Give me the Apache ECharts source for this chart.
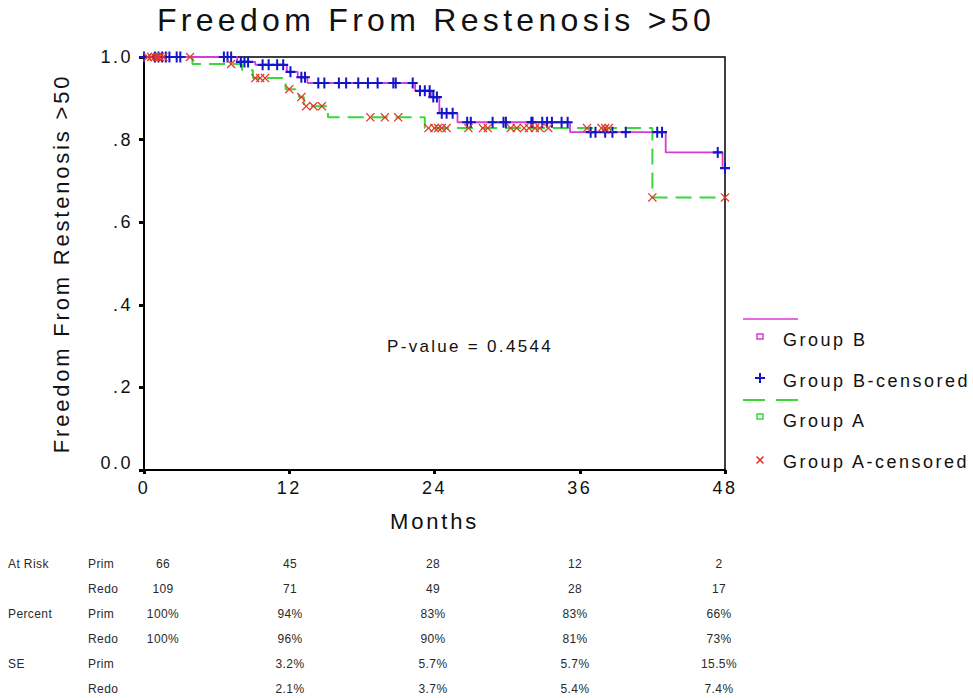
<!DOCTYPE html>
<html><head><meta charset="utf-8">
<script src="https://cdn.jsdelivr.net/npm/echarts@6/dist/echarts.min.js"></script>
<style>
html,body{margin:0;padding:0;background:#fff;}
#chart{width:973px;height:698px;}
#chart text[style*="32px"]{letter-spacing:4.3px;}
#chart text[style*="22px"]{letter-spacing:2.8px;}
#chart text[style*="18px"]{letter-spacing:2.5px;}
#chart text[style*="17px"]{letter-spacing:2.3px;}
#chart text[style*="12px"]{letter-spacing:0.4px;}
</style></head><body><div id="chart"></div>
<script>
// ---- tick labels ----
const xTickLabels = ['0', '12', '24', '36', '48'];
const yTickLabels = ['0.0', '.2', '.4', '.6', '.8', '1.0'];

// ---- Group B (Redo): Kaplan-Meier steps [month, survival] ----
const groupBSteps = [[0,1.0],[7.7,0.988],[9.2,0.981],[11.8,0.964],[12.7,0.951],[13.5,0.937],[22.4,0.918],[23.7,0.903],[24.4,0.864],[25.9,0.842],[35.2,0.818],[43.1,0.769],[47.8,0.731],[48,0.731]];
// censored marks [month, survival]
const groupBCensored = [[0,1.0],[0.9,1.0],[1.2,1.0],[1.5,1.0],[1.8,1.0],[2.1,1.0],[2.7,1.0],[3.0,1.0],[6.6,1.0],[6.9,1.0],[7.2,1.0],
  [8.0,0.988],[8.3,0.988],[8.6,0.988],
  [9.8,0.981],[10.3,0.981],[11.0,0.981],[11.5,0.981],
  [12.1,0.964],[13.0,0.951],[13.3,0.951],
  [14.4,0.937],[14.9,0.937],[16.1,0.937],[16.7,0.937],[17.7,0.937],[18.5,0.937],[19.3,0.937],[20.6,0.937],[20.8,0.937],[22.2,0.937],
  [22.8,0.918],[23.2,0.918],[23.6,0.918],
  [23.9,0.903],[24.2,0.903],
  [24.6,0.864],[25.0,0.864],[25.5,0.864],
  [26.7,0.842],[27.0,0.842],[28.8,0.842],[29.7,0.842],[29.9,0.842],[32.0,0.842],[32.1,0.842],[32.9,0.842],[33.3,0.842],[33.7,0.842],[34.5,0.842],[35.0,0.842],
  [36.9,0.818],[37.3,0.818],[38.1,0.818],[38.7,0.818],[39.8,0.818],[42.4,0.818],[42.8,0.818],
  [47.4,0.769],[48.0,0.731]];

// ---- Group A (Prim): Kaplan-Meier steps ----
const groupASteps = [[0,1.0],[4.0,0.983],[8.1,0.968],[9.0,0.949],[11.7,0.922],[12.8,0.903],[13.2,0.881],[15.2,0.854],[23.2,0.828],[42.0,0.660],[48,0.660]];
const groupACensored = [[0.3,1.0],[0.6,1.0],[0.9,1.0],[1.1,1.0],[1.3,1.0],[1.6,1.0],[3.8,1.0],
  [7.2,0.983],
  [9.2,0.949],[9.6,0.949],[10.0,0.949],
  [12.0,0.922],[13.0,0.903],
  [13.4,0.881],[14.0,0.881],[14.7,0.881],
  [18.7,0.854],[19.9,0.854],[21.0,0.854],
  [23.5,0.828],[24.0,0.828],[24.3,0.828],[24.6,0.828],[25.0,0.828],[26.8,0.828],[28.0,0.828],[28.4,0.828],[30.3,0.828],[30.8,0.828],[31.4,0.828],[31.8,0.828],[32.3,0.828],[32.7,0.828],[33.4,0.828],[36.6,0.828],[37.8,0.828],[38.1,0.828],[38.4,0.828],
  [42.0,0.660],[48.0,0.660]];

// ---- risk table ----
const tableGroups = ['At Risk', '', 'Percent', '', 'SE', ''];
const tableArms = ['Prim', 'Redo', 'Prim', 'Redo', 'Prim', 'Redo'];
const atRiskPrim = ['66', '45', '28', '12', '2'];
const atRiskRedo = ['109', '71', '49', '28', '17'];
const percentPrim = ['100%', '94%', '83%', '83%', '66%'];
const percentRedo = ['100%', '96%', '90%', '81%', '73%'];
const sePrim = ['', '3.2%', '5.7%', '5.7%', '15.5%'];
const seRedo = ['', '2.1%', '3.7%', '5.4%', '7.4%'];

const titleText = 'Freedom From Restenosis >50';
const pValueText = 'P-value = 0.4544';
const legendNames = ['Group B', 'Group B-censored', 'Group A', 'Group A-censored'];

// ---- styles / layout ----
const FONT = 'Liberation Sans';
const MAGENTA = '#d83ad8', BLUE = '#1414c8', GREEN = '#3ad83a', RED = '#e03a2a';
const PLUS = 'path://M4,0h2v4h4v2h-4v4h-2v-4h-4v-2h4z';
const CROSS = 'path://M1,0L5,4L9,0L10,1L6,5L10,9L9,10L5,6L1,10L0,9L4,5L0,1Z';

const chart = echarts.init(document.getElementById('chart'), null, {renderer: 'svg'});

const tableRows = [atRiskPrim, atRiskRedo, percentPrim, percentRedo, sePrim, seRedo];
const colX = [163, 290, 433, 575, 719];
const rowY = [564, 589, 614, 639, 664, 689];
const tableEls = [];
const tStyle = {fontSize: 12, fontFamily: FONT, fill: '#2a2a2a', verticalAlign: 'middle'};
tableRows.forEach((row, r) => {
  if (tableGroups[r]) tableEls.push({type: 'text', style: Object.assign({}, tStyle, {text: tableGroups[r], x: 8, y: rowY[r], align: 'left'})});
  tableEls.push({type: 'text', style: Object.assign({}, tStyle, {text: tableArms[r], x: 88, y: rowY[r], align: 'left'})});
  row.forEach((v, c) => {
    if (v) tableEls.push({type: 'text', style: Object.assign({}, tStyle, {text: v, x: colX[c], y: rowY[r], align: 'center'})});
  });
});

const lStyle = {fontSize: 18, fontFamily: FONT, fill: '#111', verticalAlign: 'middle', align: 'left'};
const legendEls = [
  {type: 'line', shape: {x1: 743, y1: 319, x2: 798, y2: 319}, style: {stroke: MAGENTA, lineWidth: 1.5}},
  {type: 'rect', shape: {x: 757, y: 334, width: 6, height: 5}, style: {fill: '#fff', stroke: MAGENTA, lineWidth: 1.5}},
  {type: 'text', style: Object.assign({}, lStyle, {text: legendNames[0], x: 783, y: 340})},
  {type: 'polygon', shape: {points: [[759,373],[761,373],[761,377],[765,377],[765,379],[761,379],[761,383],[759,383],[759,379],[755,379],[755,377],[759,377]]}, style: {fill: BLUE}},
  {type: 'text', style: Object.assign({}, lStyle, {text: legendNames[1], x: 783, y: 381})},
  {type: 'line', shape: {x1: 743, y1: 400, x2: 798, y2: 400}, style: {stroke: GREEN, lineWidth: 2, lineDash: [22, 11]}},
  {type: 'rect', shape: {x: 757, y: 414, width: 6, height: 5}, style: {fill: '#fff', stroke: GREEN, lineWidth: 1.5}},
  {type: 'text', style: Object.assign({}, lStyle, {text: legendNames[2], x: 783, y: 421})},
  {type: 'line', shape: {x1: 756.5, y1: 456.5, x2: 763.5, y2: 463.5}, style: {stroke: RED, lineWidth: 1.6}},
  {type: 'line', shape: {x1: 763.5, y1: 456.5, x2: 756.5, y2: 463.5}, style: {stroke: RED, lineWidth: 1.6}},
  {type: 'text', style: Object.assign({}, lStyle, {text: legendNames[3], x: 783, y: 462})}
];

const option = {
  backgroundColor: '#fff',
  animation: false,
  textStyle: {fontFamily: FONT},
  grid: {left: 144, right: 248, top: 57, bottom: 228, show: true, borderColor: '#000', borderWidth: 1.5},
  xAxis: {
    type: 'value', min: 0, max: 48, interval: 12,
    name: 'Months', nameLocation: 'middle', nameGap: 40,
    nameTextStyle: {fontSize: 22, color: '#111', fontFamily: FONT},
    axisLine: {show: true, onZero: false, lineStyle: {color: '#000', width: 2}},
    axisTick: {show: true, length: 4, lineStyle: {color: '#000', width: 3}},
    axisLabel: {fontSize: 18, color: '#111', margin: 9, fontFamily: FONT,
      formatter: v => xTickLabels[Math.round(v / 12)]},
    splitLine: {show: false}
  },
  yAxis: {
    type: 'value', min: 0, max: 1, interval: 0.2,
    name: titleText, nameLocation: 'middle', nameGap: 72, nameRotate: 90,
    nameTextStyle: {fontSize: 22, color: '#111', fontFamily: FONT},
    axisLine: {show: true, lineStyle: {color: '#000', width: 2}},
    axisTick: {show: true, length: 5, lineStyle: {color: '#000', width: 3}},
    axisLabel: {fontSize: 18, color: '#111', margin: 11, fontFamily: FONT,
      formatter: v => { const i = Math.round(v / 0.2); return i === 0 ? '{lo|' + yTickLabels[0] + '}' : yTickLabels[i]; },
      rich: {lo: {fontSize: 18, color: '#111', fontFamily: FONT, padding: [0, 0, 14, 0]}}},
    splitLine: {show: false}
  },
  series: [
    {name: 'Group A', type: 'line', step: 'end', data: groupASteps, symbol: 'none', clip: false,
      lineStyle: {color: GREEN, width: 2, type: [16, 8]}, z: 2},
    {name: 'Group B', type: 'line', step: 'end', data: groupBSteps, symbol: 'none', clip: false,
      lineStyle: {color: MAGENTA, width: 1.8}, z: 3},
    {name: 'Group B-censored', type: 'scatter', data: groupBCensored, symbol: PLUS, symbolSize: [10, 11], clip: false,
      itemStyle: {color: BLUE, opacity: 1}, z: 4},
    {name: 'Group A-censored', type: 'scatter', data: groupACensored, symbol: CROSS, symbolSize: 9, clip: false,
      itemStyle: {color: RED, opacity: 1}, z: 5}
  ],
  graphic: [
    {type: 'text', style: {text: titleText, x: 436, y: 20, align: 'center', verticalAlign: 'middle', fontSize: 32, fontFamily: FONT, fill: '#111'}},
    {type: 'text', style: {text: pValueText, x: 470, y: 346, align: 'center', verticalAlign: 'middle', fontSize: 17, fontFamily: FONT, fill: '#111'}}
  ].concat(legendEls, tableEls)
};
chart.setOption(option);
</script></body></html>
